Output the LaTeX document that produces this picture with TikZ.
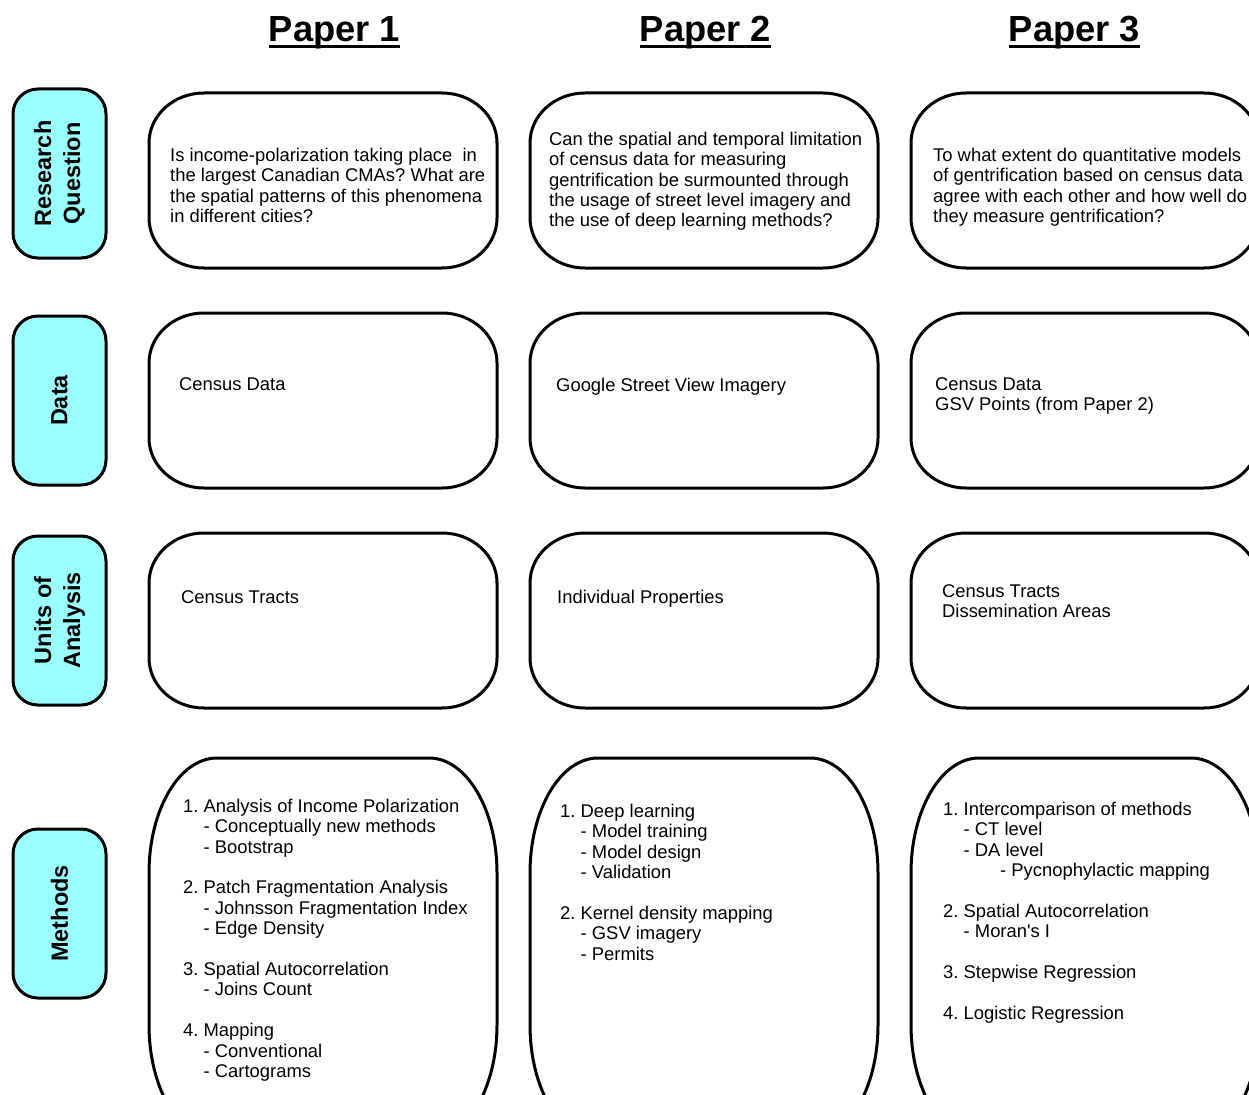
\documentclass[tikz,border=0pt]{standalone}
\usepackage{fontspec}
\setmainfont{Liberation Sans}
\frenchspacing
\definecolor{lab}{HTML}{9CFFFF}
\newcommand\fl{\rule{0pt}{14pt}}
\newcommand\ind{\hspace*{20.5pt}}
\newcommand\ebox[7]{%
 \node[inner sep=0pt, minimum width={(#4-#2)*1pt}, minimum height={(#5-#3)*1pt}] (#1) at ({(#2+#4)/2},{(#3+#5)/2}) {};
 \draw[boxline] ({#2+#6},#3) -- ({#4-#6},#3)
   .. controls ({#4-0.4477*#6},#3) and (#4,{#3+0.4477*#7}) .. (#4,{#3+#7})
   -- (#4,{#5-#7})
   .. controls (#4,{#5-0.4477*#7}) and ({#4-0.4477*#6},#5) .. ({#4-#6},#5)
   -- ({#2+#6},#5)
   .. controls ({#2+0.4477*#6},#5) and (#2,{#5-0.4477*#7}) .. (#2,{#5-#7})
   -- (#2,{#3+#7})
   .. controls (#2,{#3+0.4477*#7}) and ({#2+0.4477*#6},#3) .. ({#2+#6},#3) -- cycle;
}
\tikzset{
 boxline/.style={line width=3pt, draw=black, line join=round},
 labbox/.style={draw=black, line width=3pt, fill=lab, rounded corners=25pt, rotate=90,
   minimum width=169pt, minimum height=93pt, inner sep=0pt, align=center,
   font=\fontsize{23.5}{29}\selectfont\bfseries},
 body/.style={anchor=north west, inner sep=0pt, align=left, font=\fontsize{18.4}{20.4}\selectfont},
 head/.style={anchor=base, inner sep=0pt, font=\fontsize{36.3}{40}\selectfont\bfseries},
 uline/.style={line width=2.7pt},
}
\begin{document}
\begin{tikzpicture}[x=1pt,y=-1pt]
\path[use as bounding box] (0,0) rectangle (1249,1094);
\clip (0,0) rectangle (1249,1094);
\fill[white] (0,0) rectangle (1249,1094);

% headers
\node[head] (h1) at (334.5,41.7) {Paper 1};
\node[head] (h2) at (705.5,41.7) {Paper 2};
\node[head] (h3) at (1074.5,41.7) {Paper 3};
\draw[uline] ([yshift=-5pt]h1.base west) -- ([yshift=-5pt]h1.base east);
\draw[uline] ([yshift=-5pt]h2.base west) -- ([yshift=-5pt]h2.base east);
\draw[uline] ([yshift=-5pt]h3.base west) -- ([yshift=-5pt]h3.base east);

% row labels
\node[labbox] (lrq) at (59.5,173.5) {Research\\Question};
\node[labbox] (ldata) at (59.5,400.5) {Data};
\node[labbox] (lunits) at (59.5,620.5) {Units of\\Analysis};
\node[labbox] (lmeth) at (59.5,913.5) {Methods};

% boxes
\ebox{rq1}{149}{93}{497}{268}{55}{50}
\ebox{rq2}{530}{93}{878}{268}{55}{50}
\ebox{rq3}{911}{93}{1259}{268}{55}{50}
\ebox{da1}{149}{313}{497}{488}{55}{50}
\ebox{da2}{530}{313}{878}{488}{55}{50}
\ebox{da3}{911}{313}{1259}{488}{55}{50}
\ebox{un1}{149}{533}{497}{708}{55}{50}
\ebox{un2}{530}{533}{878}{708}{55}{50}
\ebox{un3}{911}{533}{1259}{708}{55}{50}
\ebox{me1}{149}{758}{497}{1140}{68}{115}
\ebox{me2}{530}{758}{878}{1140}{68}{115}
\ebox{me3}{911}{758}{1259}{1140}{68}{115}

% texts
\node[body] (trq1) at (170,147) {\fl Is income-polarization taking place~ in\\the largest Canadian CMAs? What are\\the spatial patterns of this phenomena\\in different cities?};
\node[body] (trq2) at (549,131) {\fl Can the spatial and temporal limitation\\of census data for measuring\\gentrification be surmounted through\\the usage of street level imagery and\\the use of deep learning methods?};
\node[body] (trq3) at (933,147) {\fl To what extent do quantitative models\\of gentrification based on census data\\agree with each other and how well do\\they measure gentrification?};

\node[body] (tda1) at (179,376) {\fl Census Data};
\node[body] (tda2) at (556,377) {\fl Google Street View Imagery};
\node[body] (tda3) at (935,376) {\fl Census Data\\GSV Points (from Paper 2)};

\node[body] (tun1) at (181,589) {\fl Census Tracts};
\node[body] (tun2) at (557,589) {\fl Individual Properties};
\node[body] (tun3) at (942,583) {\fl Census Tracts\\Dissemination Areas};

\node[body] (tme1) at (183,798) {\fl 1. Analysis of Income Polarization\\
\ind- Conceptually new methods\\
\ind- Bootstrap\\[20.4pt]
2. Patch Fragmentation Analysis\\
\ind- Johnsson Fragmentation Index\\
\ind- Edge Density\\[20.4pt]
3. Spatial Autocorrelation\\
\ind- Joins Count\\[20.4pt]
4. Mapping\\
\ind- Conventional\\
\ind- Cartograms};

\node[body] (tme2) at (560,803) {\fl 1. Deep learning\\
\ind- Model training\\
\ind- Model design\\
\ind- Validation\\[20.4pt]
2. Kernel density mapping\\
\ind- GSV imagery\\
\ind- Permits};

\node[body] (tme3) at (943,801) {\fl 1. Intercomparison of methods\\
\ind- CT level\\
\ind- DA level\\
\hspace*{57pt}- Pycnophylactic mapping\\[20.4pt]
2. Spatial Autocorrelation\\
\ind- Moran\textquotesingle s I\\[20.4pt]
3. Stepwise Regression\\[20.4pt]
4. Logistic Regression};
\end{tikzpicture}
\end{document}
